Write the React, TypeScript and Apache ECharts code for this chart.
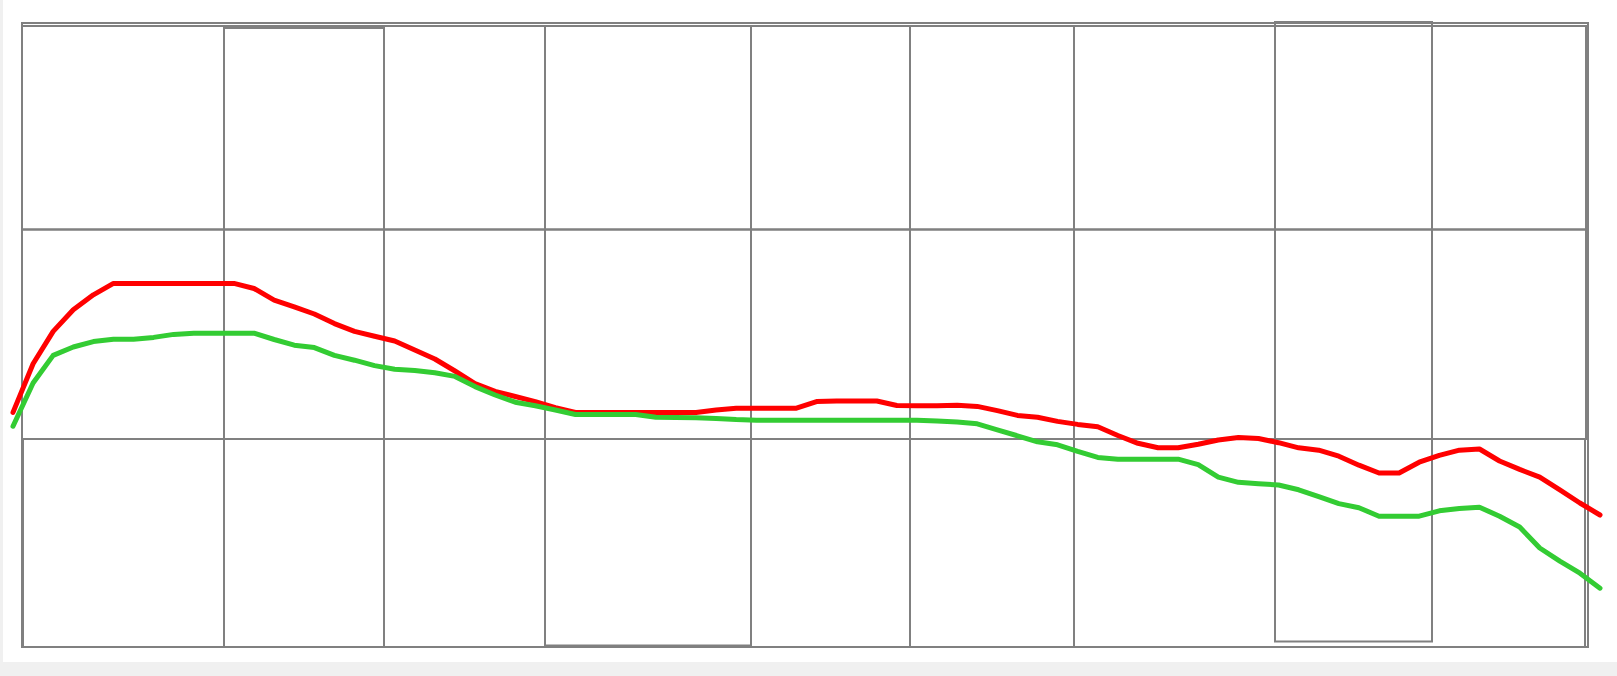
import React, { useEffect, useRef } from "react";
import * as echarts from "echarts";

const redValues = [39.1, 47.2, 52.6, 56.2, 58.7, 60.6, 60.6, 60.6, 60.6, 60.6, 60.6, 60.6, 59.75, 57.8, 56.7, 55.5, 53.9, 52.6, 51.8, 51.0, 49.5, 48.0, 46.0, 43.9, 42.6, 41.75, 40.9, 39.9, 39.1, 39.1, 39.1, 39.1, 39.1, 39.1, 39.1, 39.5, 39.8, 39.8, 39.8, 39.8, 40.9, 41.0, 41.0, 41.0, 40.25, 40.2, 40.2, 40.3, 40.1, 39.4, 38.6, 38.3, 37.6, 37.1, 36.7, 35.25, 33.95, 33.2, 33.2, 33.8, 34.5, 34.9, 34.75, 34.05, 33.2, 32.8, 31.8, 30.3, 29.0, 29.0, 30.8, 31.95, 32.8, 33.0, 31.0, 29.6, 28.3, 26.2, 24.0, 22.0];

const greenValues = [36.8, 44.0, 48.6, 50.0, 50.9, 51.3, 51.3, 51.6, 52.1, 52.3, 52.3, 52.3, 52.3, 51.25, 50.3, 49.9, 48.6, 47.8, 46.9, 46.3, 46.1, 45.7, 45.1, 43.4, 42.0, 40.8, 40.2, 39.5, 38.75, 38.75, 38.75, 38.75, 38.3, 38.25, 38.2, 38.1, 37.9, 37.8, 37.8, 37.8, 37.8, 37.8, 37.8, 37.8, 37.8, 37.8, 37.65, 37.5, 37.2, 36.2, 35.2, 34.2, 33.7, 32.6, 31.6, 31.3, 31.3, 31.3, 31.3, 30.4, 28.3, 27.45, 27.2, 27.0, 26.2, 25.05, 23.9, 23.2, 21.8, 21.8, 21.8, 22.7, 23.1, 23.3, 21.8, 20.0, 16.5, 14.3, 12.3, 9.8];

const categories = redValues.map((_, i) => String(i + 1));

const frameColor = "#808080";

function frameRect(x: number, y: number, w: number, h: number, lw = 2) {
  return {
    type: "rect",
    z: 1,
    silent: true,
    shape: { x, y, width: w, height: h },
    style: { fill: "none", stroke: frameColor, lineWidth: lw },
  };
}

function frameLine(x1: number, y1: number, x2: number, y2: number, lw = 2) {
  return {
    type: "line",
    z: 1,
    silent: true,
    shape: { x1, y1, x2, y2 },
    style: { stroke: frameColor, lineWidth: lw },
  };
}

export default function App() {
  const ref = useRef<HTMLDivElement>(null);

  useEffect(() => {
    if (!ref.current) return;
    const chart = echarts.init(ref.current, null, { renderer: "svg" });
    chart.setOption({
      animation: false,
      backgroundColor: "#f0f0f0",
      grid: { left: 13, right: 17, top: 23, bottom: 29 },
      xAxis: {
        type: "category",
        data: categories,
        boundaryGap: false,
        show: false,
      },
      yAxis: {
        type: "value",
        min: 0,
        max: 104,
        show: false,
        splitLine: { show: false },
      },
      graphic: [
        {
          type: "rect",
          z: 0,
          silent: true,
          shape: { x: 3, y: 0, width: 1614, height: 662 },
          style: { fill: "#ffffff" },
        },
        frameRect(22, 23, 1566, 624),
        frameRect(22, 26, 1564, 203.5),
        frameRect(22, 229.5, 1564, 209.5),
        frameRect(23, 439, 1562, 208),
        frameRect(224, 28, 160, 619),
        frameRect(545, 26, 206, 619.5),
        frameRect(1275, 22, 157, 619.5),
        frameLine(910, 26, 910, 647),
        frameLine(1074, 26, 1074, 647),
      ],
      series: [
        {
          type: "line",
          data: redValues,
          showSymbol: false,
          z: 3,
          lineStyle: { color: "#ff0000", width: 5, cap: "round", join: "round" },
          itemStyle: { color: "#ff0000" },
        },
        {
          type: "line",
          data: greenValues,
          showSymbol: false,
          z: 3,
          lineStyle: { color: "#33cc33", width: 5, cap: "round", join: "round" },
          itemStyle: { color: "#33cc33" },
        },
      ],
    });
    return () => chart.dispose();
  }, []);

  return (
    <div
      ref={ref}
      style={{ position: "fixed", left: 0, top: 0, width: 1617, height: 676 }}
    />
  );
}
